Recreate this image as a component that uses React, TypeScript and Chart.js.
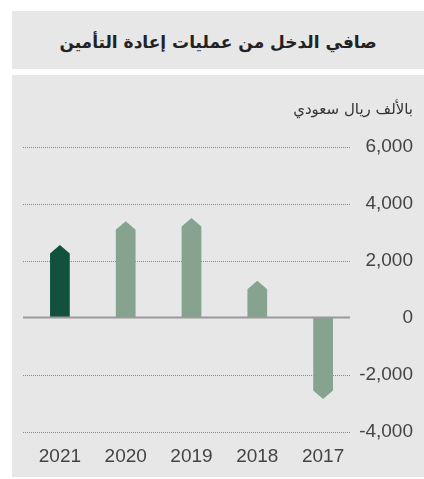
import React, { useEffect, useRef } from "react";
import { Chart, registerables } from "chart.js";

Chart.register(...registerables);

const TITLE = "صافي الدخل من عمليات إعادة التأمين";
const UNIT_LABEL = "بالألف ريال سعودي";
const YEARS = ["2021", "2020", "2019", "2018", "2017"];
const NET_INCOME = [2550, 3380, 3490, 1290, -2850];
const BAR_COLORS = ["#13513f", "#86a38f", "#86a38f", "#86a38f", "#86a38f"];
const Y_MIN = -4000;
const Y_MAX = 6000;
const Y_STEP = 2000;

const BG = "#e6e7e6";
const TICK_FONT = { family: "'Liberation Sans', Arial, sans-serif", size: 19 };

const arrowBars = {
  id: "arrowBars",
  afterDatasetsDraw(chart: any) {
    const ctx = chart.ctx;
    const area = chart.chartArea;
    const yScale = chart.scales.y;
    ctx.save();
    // dotted gridlines
    ctx.setLineDash([1, 1]);
    ctx.strokeStyle = "#8a8a8a";
    ctx.lineWidth = 1;
    yScale.ticks.forEach((t: any) => {
      if (t.value === 0) return;
      const py = Math.round(yScale.getPixelForValue(t.value)) + 0.5;
      ctx.beginPath();
      ctx.moveTo(area.left - 4, py);
      ctx.lineTo(area.right - 6, py);
      ctx.stroke();
    });
    ctx.setLineDash([]);
    // arrow bars
    const meta = chart.getDatasetMeta(0);
    const colors = chart.data.datasets[0].arrowColors;
    meta.data.forEach((el: any, i: number) => {
      const { x, y, base, width } = el.getProps(["x", "y", "base", "width"], true);
      const up = y < base;
      const h = 8.5;
      const sh = up ? y + h : y - h;
      const l = x - width / 2;
      const r = x + width / 2;
      ctx.fillStyle = colors[i];
      ctx.beginPath();
      ctx.moveTo(l, base);
      ctx.lineTo(l, sh);
      ctx.lineTo(x, y);
      ctx.lineTo(r, sh);
      ctx.lineTo(r, base);
      ctx.closePath();
      ctx.fill();
    });
    // zero line
    const z = yScale.getPixelForValue(0);
    ctx.strokeStyle = "#9a9a9a";
    ctx.lineWidth = 2;
    ctx.beginPath();
    ctx.moveTo(area.left - 4, z);
    ctx.lineTo(area.right - 6, z);
    ctx.stroke();
    ctx.restore();
  },
};

function NetIncomeChart() {
  const ref = useRef<HTMLCanvasElement | null>(null);
  useEffect(() => {
    if (!ref.current) return;
    const chart = new Chart(ref.current, {
      type: "bar",
      data: {
        labels: YEARS,
        datasets: [
          {
            data: NET_INCOME,
            backgroundColor: "rgba(0,0,0,0)",
            borderWidth: 0,
            barPercentage: 0.3,
            categoryPercentage: 1,
            arrowColors: BAR_COLORS,
          } as any,
        ],
      },
      options: {
        animation: false,
        responsive: false,
        maintainAspectRatio: false,
        layout: { padding: { left: 15, right: 11, top: 71.5, bottom: 5 } },
        plugins: { legend: { display: false }, tooltip: { enabled: false } },
        scales: {
          x: {
            grid: { display: false, drawTicks: false },
            border: { display: false },
            ticks: { font: TICK_FONT, color: "#444", padding: 14, maxRotation: 0 },
            afterFit: (s: any) => {
              s.height = 40.3;
            },
          },
          y: {
            position: "right",
            min: Y_MIN,
            max: Y_MAX,
            grid: { display: false, drawTicks: false },
            border: { display: false },
            ticks: {
              stepSize: Y_STEP,
              font: TICK_FONT,
              color: "#444",
              crossAlign: "far",
              callback: (v: any) => Number(v).toLocaleString("en-US"),
            },
            afterFit: (s: any) => {
              s.width = 57;
            },
          },
        },
      },
      plugins: [arrowBars],
    });
    return () => chart.destroy();
  }, []);
  return <canvas ref={ref} width={412} height={402} style={{ position: "absolute", left: 0, top: 0, width: 412, height: 402 }} />;
}

export default function App() {
  return (
    <div style={{ position: "fixed", left: 0, top: 0, width: 424, height: 479, background: "#fff", overflow: "hidden" }}>
      <div
        style={{
          position: "absolute",
          left: 12,
          top: 11,
          width: 412,
          height: 58,
          background: BG,
          display: "flex",
          alignItems: "center",
          justifyContent: "center",
        }}
      >
        <div dir="rtl" style={{ fontFamily: "'DejaVu Sans', sans-serif", fontWeight: "bold", fontSize: 17, color: "#222", marginTop: 4 }}>
          {TITLE}
        </div>
      </div>
      <div style={{ position: "absolute", left: 12, top: 75, width: 412, height: 402, background: BG }}>
        <NetIncomeChart />
        <div
          dir="rtl"
          style={{
            position: "absolute",
            right: 11,
            top: 25,
            fontFamily: "'DejaVu Sans', sans-serif",
            fontSize: 15,
            color: "#333",
            whiteSpace: "nowrap",
          }}
        >
          {UNIT_LABEL}
        </div>
      </div>
    </div>
  );
}
